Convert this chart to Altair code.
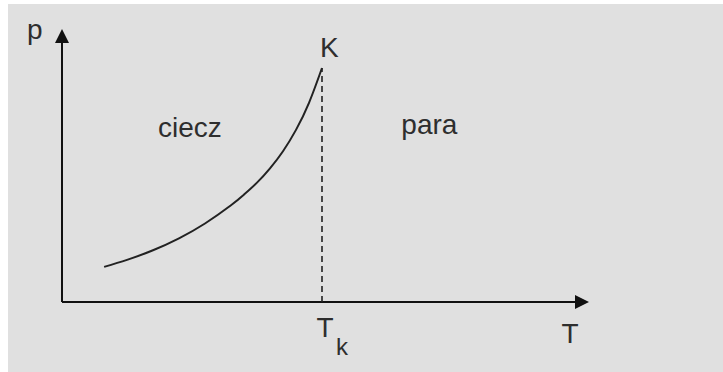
import altair as alt
import pandas as pd

# Saturation-pressure curve p(T), ending at the critical point K (T = Tk)
curve_T = [1.62, 2.5, 3.5, 4.5, 5.5, 6.5, 7.0, 7.5, 8.0, 8.5, 9.0, 9.5, 10.0]
curve_p = [1.35, 1.62, 1.99, 2.45, 3.02, 3.72, 4.13, 4.59, 5.14, 5.80, 6.62, 7.66, 9.0]

T_crit = 10.0
p_crit = 9.0

# Axis extents (arrow tips sit just past these)
T_axis_end = 20.0
p_axis_end = 10.23

# Region / axis labels
label_text = ["ciecz", "para", "K", "p", "T", "T"]
label_T = [4.92, 14.13, 9.92, -1.35, 19.54, 10.115]
label_p = [6.35, 6.46, 9.42, 10.115, -1.577, -1.346]
label_align = ["center", "center", "left", "left", "center", "center"]

sub_text = ["k"]
sub_T = [10.54]
sub_p = [-2.04]

FONT = "Liberation Sans"
INK = "#111111"
TEXT_INK = "#2e2e2e"

xs = alt.Scale(domain=[-2.0769, 25.4231], nice=False, zero=False)
ys = alt.Scale(domain=[-2.6923, 11.4615], nice=False, zero=False)

curve_df = pd.DataFrame({"T": curve_T, "p": curve_p})
axes_df = pd.DataFrame({
    "x": [0.0, 0.0], "x2": [T_axis_end, 0.0],
    "y": [0.0, 0.0], "y2": [0.0, p_axis_end],
})
crit_df = pd.DataFrame({"T": [T_crit], "p0": [0.0], "p1": [p_crit]})
up_df = pd.DataFrame({"T": [0.0], "p": [p_axis_end]})
right_df = pd.DataFrame({"T": [T_axis_end], "p": [0.0]})
labels_df = pd.DataFrame({"t": label_text, "T": label_T, "p": label_p, "a": label_align})
sub_df = pd.DataFrame({"t": sub_text, "T": sub_T, "p": sub_p})

axes = alt.Chart(axes_df).mark_rule(color=INK, strokeWidth=2).encode(
    x=alt.X("x:Q", scale=xs, axis=None),
    x2="x2:Q",
    y=alt.Y("y:Q", scale=ys, axis=None),
    y2="y2:Q",
)

arrow_up = alt.Chart(up_df).mark_point(
    shape="M0,-1L1,1L-1,1Z", filled=True, opacity=1, color=INK, size=196
).encode(x=alt.X("T:Q", scale=xs, axis=None), y=alt.Y("p:Q", scale=ys, axis=None))

arrow_right = alt.Chart(right_df).mark_point(
    shape="M1,0L-1,1L-1,-1Z", filled=True, opacity=1, color=INK, size=196
).encode(x=alt.X("T:Q", scale=xs, axis=None), y=alt.Y("p:Q", scale=ys, axis=None))

line = alt.Chart(curve_df).mark_line(
    color="#222222", strokeWidth=2, interpolate="natural"
).encode(x=alt.X("T:Q", scale=xs, axis=None), y=alt.Y("p:Q", scale=ys, axis=None))

crit = alt.Chart(crit_df).mark_rule(
    color="#222222", strokeWidth=1.6, strokeDash=[6, 4]
).encode(
    x=alt.X("T:Q", scale=xs, axis=None),
    y=alt.Y("p0:Q", scale=ys, axis=None),
    y2="p1:Q",
)

def text_layer(df, align, size):
    return alt.Chart(df).mark_text(
        font=FONT, fontSize=size, color=TEXT_INK, align=align, baseline="alphabetic"
    ).encode(
        x=alt.X("T:Q", scale=xs, axis=None),
        y=alt.Y("p:Q", scale=ys, axis=None),
        text="t:N",
    )

labels_center = text_layer(labels_df[labels_df["a"] == "center"], "center", 28)
labels_left = text_layer(labels_df[labels_df["a"] == "left"], "left", 28)
subscript = text_layer(sub_df, "left", 24)

chart = (
    alt.layer(axes, crit, line, arrow_up, arrow_right, labels_center, labels_left, subscript)
    .properties(
        width=715,
        height=368,
        padding={"left": 8, "top": 4, "right": 0, "bottom": 0},
        autosize=alt.AutoSizeParams(type="none"),
        background="#ffffff",
    )
    .configure_view(stroke=None, fill="#e0e0e0")
)

chart.save("out.html", embed_options={"renderer": "svg", "actions": False})
